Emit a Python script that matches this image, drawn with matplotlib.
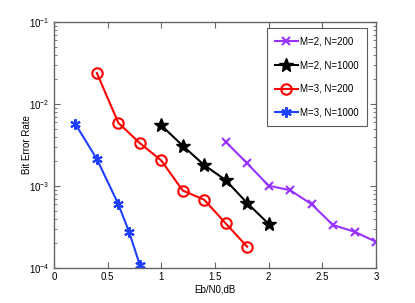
import matplotlib
matplotlib.use("Agg")
import matplotlib.pyplot as plt
import numpy as np

plt.rcParams['font.family'] = ['Liberation Sans', 'DejaVu Sans']

x_m2_n200 = [1.6, 1.8, 2.0, 2.2, 2.4, 2.6, 2.8, 3.0]
y_m2_n200 = [3.47e-3, 1.89e-3, 1.01e-3, 8.9e-4, 6.0e-4, 3.34e-4, 2.77e-4, 2.09e-4]
x_m2_n1000 = [1.0, 1.2, 1.4, 1.6, 1.8, 2.0]
y_m2_n1000 = [5.5e-3, 3.1e-3, 1.8e-3, 1.18e-3, 6.2e-4, 3.45e-4]
x_m3_n200 = [0.4, 0.6, 0.8, 1.0, 1.2, 1.4, 1.6, 1.8]
y_m3_n200 = [2.39e-2, 5.9e-3, 3.34e-3, 2.05e-3, 8.8e-4, 6.8e-4, 3.5e-4, 1.82e-4]
x_m3_n1000 = [0.2, 0.4, 0.6, 0.7, 0.8]
y_m3_n1000 = [5.7e-3, 2.13e-3, 6.0e-4, 2.75e-4, 1.09e-4]

labels = ['M=2, N=200', 'M=2, N=1000', 'M=3, N=200', 'M=3, N=1000']
xticks = [0, 0.5, 1, 1.5, 2, 2.5, 3]

fig = plt.figure(figsize=(4.15, 3.03), dpi=100)
ax = fig.add_axes([0.130, 0.1155, 0.776, 0.8115])

ax.plot(x_m2_n200, y_m2_n200, color='#9933ff', marker='x', ms=5.5, mew=1.5, lw=1.5, label=labels[0])
ax.plot(x_m2_n1000, y_m2_n1000, color='black', marker='*', ms=10, lw=1.5, label=labels[1])
ax.plot(x_m3_n200, y_m3_n200, color='red', marker='o', ms=7.5, mfc='none', mew=1.5, lw=1.5, label=labels[2])
ax.plot(x_m3_n1000, y_m3_n1000, color='#2040ff', marker=(6, 2, 0), ms=7.5, mew=1.5, lw=1.5, label=labels[3])

ax.set_yscale('log')
ax.set_xlim(0, 3)
ax.set_ylim(1e-4, 1e-1)
ax.set_xticks(xticks)
ax.set_xticklabels(['0', '0.5', '1', '1.5', '2', '2.5', '3'])
ax.tick_params(which='both', direction='in', top=True, right=True, labelsize=7, colors='#666666', labelcolor='black')
ax.tick_params(which='major', length=4, pad=3)
ax.tick_params(which='minor', length=2)
for s in ax.spines.values():
    s.set_color('#666666')
    s.set_linewidth(1.0)

ax.set_xlabel('Eb/N0,dB', fontsize=7, labelpad=2)
ax.set_ylabel('Bit Error Rate', fontsize=7, labelpad=-2)

leg = ax.legend(loc='upper right', fontsize=7, frameon=True, fancybox=False,
                edgecolor='#333333', borderpad=0.9, labelspacing=1.4, handlelength=2.3,
                handletextpad=0.2, borderaxespad=0.0, bbox_to_anchor=(0.972, 0.976))
leg.get_frame().set_linewidth(0.8)

fig.savefig('out.png', dpi=100)
